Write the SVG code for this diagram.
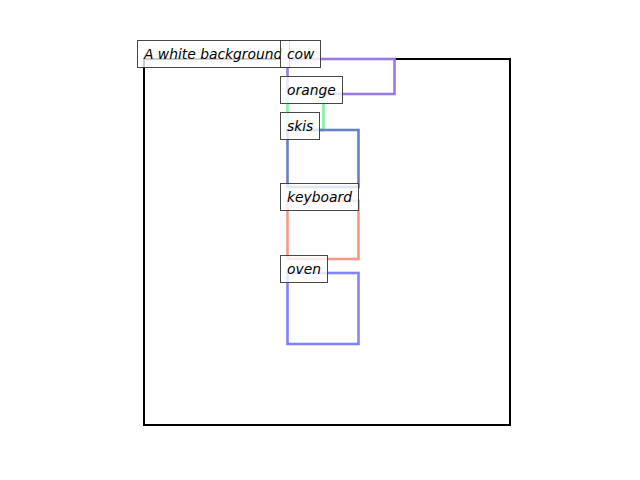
<svg xmlns="http://www.w3.org/2000/svg" width="640" height="480" viewBox="0 0 640 480">
<style>
.bx{fill:none;stroke-width:2.6}
.lb rect{fill:#fff;fill-opacity:0.8;stroke:#333;stroke-opacity:0.9;stroke-width:1}
.lb text{font-family:"DejaVu Sans",sans-serif;font-style:italic;font-size:13.85px;fill:#000}
</style>
<rect width="640" height="480" fill="#fff"/>
<g id="frame"><rect x="144" y="59" width="366" height="366" fill="none" stroke="#000" stroke-width="2"/></g>
<g id="connectors"></g>
<g id="cow-box"><rect class="bx" x="287.5" y="59" width="107" height="35" stroke="#9b78e4"/></g>
<g id="orange-box"><rect class="bx" x="287.5" y="94" width="36" height="36" stroke="#86f4a4"/></g>
<g id="skis-box"><rect class="bx" x="287.5" y="130" width="71" height="57" stroke="#6880c4"/></g>
<g id="keyboard-box"><rect class="bx" x="287.5" y="201" width="71" height="58" stroke="#f29a86"/></g>
<g id="oven-box"><rect class="bx" x="287.5" y="273" width="71" height="71" stroke="#8482fc"/></g>
<g id="label-bg" class="lb"><rect x="137.5" y="40.5" width="152" height="27"/><text x="144" y="59">A white background</text></g>
<g id="label-cow" class="lb"><rect x="280.5" y="40.5" width="40" height="27"/><text x="287" y="59">cow</text></g>
<g id="label-orange" class="lb"><rect x="280.5" y="76.5" width="62" height="27"/><text x="287" y="95">orange</text></g>
<g id="label-skis" class="lb"><rect x="280.5" y="112.5" width="39" height="27"/><text x="287" y="131">skis</text></g>
<g id="label-keyboard" class="lb"><rect x="280.5" y="183.5" width="78" height="27"/><text x="287" y="202">keyboard</text></g>
<g id="label-oven" class="lb"><rect x="280.5" y="255.5" width="47" height="27"/><text x="287" y="274">oven</text></g>
</svg>
